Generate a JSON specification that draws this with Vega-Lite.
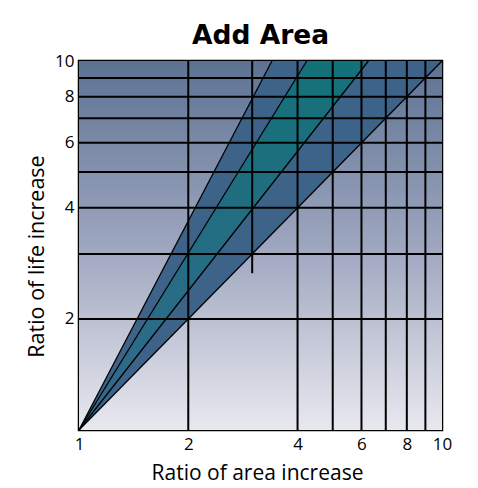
{
  "$schema": "https://vega.github.io/schema/vega-lite/v6.json",
  "width": 363,
  "height": 369,
  "autosize": {"type": "none"},
  "padding": {"left": 79, "top": 61, "right": 36, "bottom": 58},
  "background": "white",
  "title": {"text": "Add Area", "font": "DejaVu Sans", "fontSize": 26.5, "fontWeight": "bold", "color": "black", "offset": 3, "anchor": "middle"},
  "config": {
    "view": {"stroke": "black", "strokeWidth": 2.5}
  },
  "datasets": {
    "bg": [{"x": 1, "x2": 10, "y": 1, "y2": 10}],
    "outerBand": [{"y": 1, "x": 1, "x2": 1}, {"y": 10, "x": 3.4, "x2": 10}],
    "innerBand": [{"y": 1, "x": 1, "x2": 1}, {"y": 10, "x": 4.24, "x2": 6.27}],
    "vgrid": [
      {"x": 2, "y": 1, "y2": 10},
      {"x": 3, "y": 2.66, "y2": 10},
      {"x": 4, "y": 1, "y2": 10},
      {"x": 5, "y": 1, "y2": 10},
      {"x": 6, "y": 1, "y2": 10},
      {"x": 7, "y": 1, "y2": 10},
      {"x": 8, "y": 1, "y2": 10},
      {"x": 9, "y": 1, "y2": 10}
    ],
    "hgrid": [
      {"y": 2, "x": 1, "x2": 10},
      {"y": 3, "x": 1, "x2": 10},
      {"y": 4, "x": 1, "x2": 10},
      {"y": 5, "x": 1, "x2": 10},
      {"y": 6, "x": 1, "x2": 10},
      {"y": 7, "x": 1, "x2": 10},
      {"y": 8, "x": 1, "x2": 10},
      {"y": 9, "x": 1, "x2": 10}
    ],
    "rays": [
      {"x": 1, "y": 1, "x2": 3.4, "y2": 10},
      {"x": 1, "y": 1, "x2": 4.24, "y2": 10},
      {"x": 1, "y": 1, "x2": 6.27, "y2": 10},
      {"x": 1, "y": 1, "x2": 10, "y2": 10}
    ]
  },
  "layer": [
    {
      "data": {"name": "bg"},
      "mark": {"type": "rect", "color": {"gradient": "linear", "x1": 0, "y1": 0, "x2": 0, "y2": 1, "stops": [{"offset": 0, "color": "#5d7293"}, {"offset": 0.5, "color": "#9ea6bf"}, {"offset": 1, "color": "#e8e8ef"}]}},
      "encoding": {
        "x": {"field": "x", "type": "quantitative", "scale": {"type": "log", "domain": [1, 10], "nice": false},
          "axis": {"title": "Ratio of area increase", "values": [1, 2, 4, 6, 8, 10], "grid": false, "domain": false, "ticks": false, "labelFlush": false, "labelPadding": 6, "labelFont": "Open Sans", "labelFontSize": 17, "labelColor": "black", "titleFont": "Open Sans", "titleFontSize": 21, "titleFontWeight": "normal", "titleColor": "black", "titlePadding": 10, "titleX": 178}},
        "x2": {"field": "x2"},
        "y": {"field": "y", "type": "quantitative", "scale": {"type": "log", "domain": [1, 10], "nice": false},
          "axis": {"title": "Ratio of life increase", "values": [2, 4, 6, 8, 10], "grid": false, "domain": false, "ticks": false, "labelFlush": false, "labelPadding": 5, "labelFont": "Open Sans", "labelFontSize": 17, "labelColor": "black", "titleFont": "Open Sans", "titleFontSize": 21.5, "titleFontWeight": "normal", "titleColor": "black", "titlePadding": 6, "titleY": 195}},
        "y2": {"field": "y2"}
      }
    },
    {
      "data": {"name": "outerBand"},
      "mark": {"type": "area", "orient": "horizontal", "color": "#3d6389"},
      "encoding": {
        "y": {"field": "y", "type": "quantitative", "title": "Ratio of life increase"},
        "x": {"field": "x", "type": "quantitative", "title": "Ratio of area increase"},
        "x2": {"field": "x2"}
      }
    },
    {
      "data": {"name": "innerBand"},
      "mark": {"type": "area", "orient": "horizontal", "color": {"gradient": "linear", "x1": 0, "y1": 0, "x2": 0, "y2": 1, "stops": [{"offset": 0, "color": "#137179"}, {"offset": 0.5, "color": "#246d83"}, {"offset": 1, "color": "#33698c"}]}},
      "encoding": {
        "y": {"field": "y", "type": "quantitative", "title": "Ratio of life increase"},
        "x": {"field": "x", "type": "quantitative", "title": "Ratio of area increase"},
        "x2": {"field": "x2"}
      }
    },
    {
      "data": {"name": "vgrid"},
      "mark": {"type": "rule", "color": "black", "strokeWidth": 2},
      "encoding": {
        "x": {"field": "x", "type": "quantitative", "title": "Ratio of area increase"},
        "y": {"field": "y", "type": "quantitative", "title": "Ratio of life increase"},
        "y2": {"field": "y2"}
      }
    },
    {
      "data": {"name": "hgrid"},
      "mark": {"type": "rule", "color": "black", "strokeWidth": 2},
      "encoding": {
        "y": {"field": "y", "type": "quantitative", "title": "Ratio of life increase"},
        "x": {"field": "x", "type": "quantitative", "title": "Ratio of area increase"},
        "x2": {"field": "x2"}
      }
    },
    {
      "data": {"name": "rays"},
      "mark": {"type": "rule", "color": "black", "strokeWidth": 1.3},
      "encoding": {
        "x": {"field": "x", "type": "quantitative", "title": "Ratio of area increase"},
        "y": {"field": "y", "type": "quantitative", "title": "Ratio of life increase"},
        "x2": {"field": "x2"},
        "y2": {"field": "y2"}
      }
    }
  ]
}
